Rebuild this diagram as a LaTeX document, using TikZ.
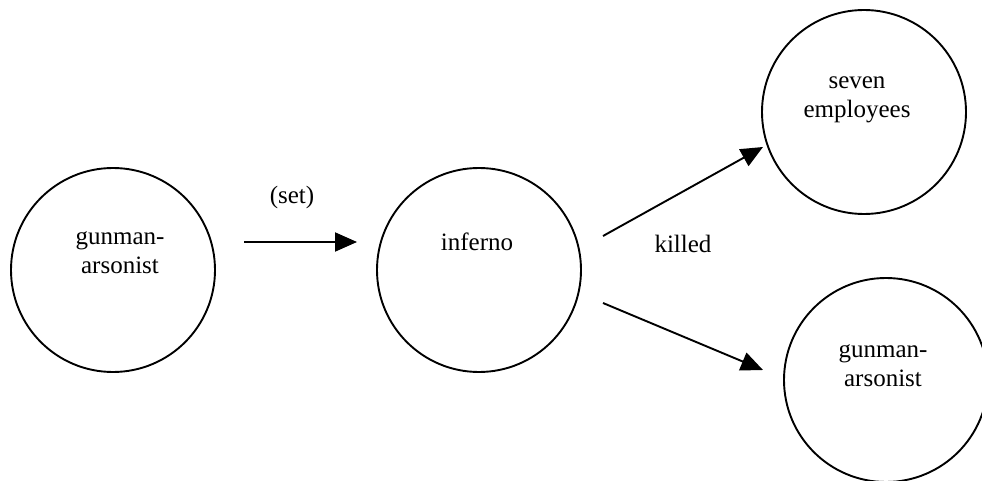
\documentclass[tikz,border=0pt]{standalone}
\usepackage{fontspec}
\setmainfont{Liberation Serif}
\usetikzlibrary{arrows.meta,calc}
\begin{document}
\begin{tikzpicture}[x=1pt,y=-1pt,
  concept/.style={circle,draw,line width=1.9pt,minimum size=204pt,inner sep=0pt},
  word/.style={align=center,font=\fontsize{25}{29}\selectfont,inner sep=0pt},
  rel/.style={line width=1.9pt,-{Triangle[length=22pt,width=19pt]}}]
\useasboundingbox (0,0) rectangle (982,481);

% concept circles
\node[concept] (agent) at (113,270) {};
\node[concept] (fire) at (479,270) {};
\node[concept] (victims) at (864,112) {};
\node[concept] (self) at (886,380) {};

% circle texts
\node[word] (agentTxt) at (120,253) {gunman-\\arsonist};
\node[word] (fireTxt) at (477,242) {inferno};
\node[word] (victimsTxt) at (857,100) {seven\\employees};
\node[word] (selfTxt) at (883,366) {gunman-\\arsonist};

% connector end points beside the circles
\coordinate (setA) at ($(agent.center)+(131,-28)$);
\coordinate (setB) at ($(fire.center)+(-122,-28)$);
\coordinate (killA) at ($(fire.center)+(124,-34)$);
\coordinate (killB) at ($(victims.center)+(-101,35)$);
\coordinate (killC) at ($(fire.center)+(124,33)$);
\coordinate (killD) at ($(self.center)+(-123,-10)$);

\draw[rel] (setA) -- (setB);
\draw[rel] (killA) -- (killB);
\draw[rel] (killC) -- (killD);

% relation labels
\node[word] (setLbl) at (292,197) {(set)};
\node[word] (killLbl) at (683,244) {killed};
\end{tikzpicture}
\end{document}
